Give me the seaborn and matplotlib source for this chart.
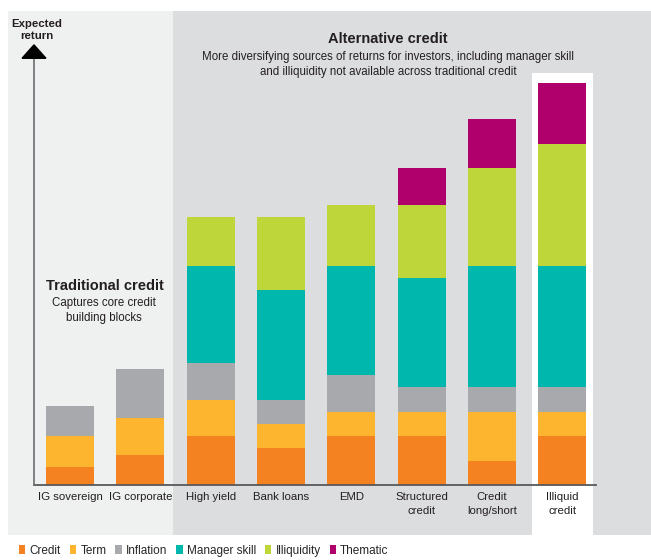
import matplotlib
matplotlib.use("Agg")
import matplotlib.pyplot as plt
from matplotlib.patches import Rectangle, Patch, Polygon
import seaborn as sns
import pandas as pd
import numpy as np

sns.set_theme(style="white")
FONT = ["Liberation Sans", "DejaVu Sans"]
plt.rcParams["font.family"] = FONT

categories = ["IG sovereign", "IG corporate", "High yield", "Bank loans", "EMD",
              "Structured\ncredit", "Credit\nlong/short", "Illiquid\ncredit"]
credit     = [1.5, 2.5, 4, 3, 4, 4, 2, 4]
term       = [2.5, 3.0, 3, 2, 2, 2, 4, 2]
inflation  = [2.5, 4.0, 3, 2, 3, 2, 2, 2]
manager    = [0, 0, 8, 9, 9, 9, 10, 10]
illiquidity= [0, 0, 4, 6, 5, 6, 8, 10]
thematic   = [0, 0, 0, 0, 0, 3, 4, 5]

layers = ["Credit", "Term", "Inflation", "Manager skill", "Illiquidity", "Thematic"]
values = [credit, term, inflation, manager, illiquidity, thematic]
colors = ["#f58220", "#fdb42f", "#a7a9ac", "#00b7ad", "#bed63a", "#b0006b"]

W, H = 651, 560
fig = plt.figure(figsize=(W / 100, H / 100), dpi=100)

def fx(px):
    return px / W

def fy(py):
    return 1 - py / H

# background panels (figure pixel coordinates)
fig.add_artist(Rectangle((fx(8), fy(535)), fx(173) - fx(8), fy(11) - fy(535),
                         transform=fig.transFigure, color="#eff0f0", zorder=-3, lw=0))
fig.add_artist(Rectangle((fx(173), fy(535)), 1 - fx(173), fy(11) - fy(535),
                         transform=fig.transFigure, color="#dcdddf", zorder=-3, lw=0))
fig.add_artist(Rectangle((fx(532), fy(535)), fx(593) - fx(532), fy(73) - fy(535),
                         transform=fig.transFigure, color="white", zorder=-2, lw=0))

ax = fig.add_axes([fx(34), fy(485), fx(596) - fx(34), fy(40) - fy(485)])
ax.patch.set_alpha(0)

df = pd.DataFrame({"category": categories})
cum = np.zeros(len(categories))
cums = []
for v in values:
    cum = cum + np.array(v, dtype=float)
    cums.append(cum.copy())

# draw from the top layer downwards so lower layers overlay
for name, c, col in reversed(list(zip(layers, cums, colors))):
    sns.barplot(x=df["category"], y=c, color=col, width=0.68, errorbar=None,
                ax=ax, saturation=1, linewidth=0, zorder=2)

ax.set_xlim(-0.512, 7.48)
ax.set_ylim(0, 36.5)
for s in ["top", "right", "left"]:
    ax.spines[s].set_visible(False)
ax.spines["bottom"].set_color("#58595b")
ax.spines["bottom"].set_linewidth(1.3)
ax.set_yticks([])
ax.set_xlabel("")
ax.set_ylabel("")
ax.tick_params(axis="x", length=0, pad=5, labelsize=8.2, colors="#231f20")
ax.set_xticks(range(len(categories)))
ax.set_xticklabels(categories, linespacing=1.45, family=FONT)

# y axis arrow
x0 = -0.512
ax.plot([x0, x0], [0, 35.2], color="#6d6e71", lw=1.2, clip_on=False, zorder=3)
ax.add_patch(Polygon([[x0 - 0.17, 35.0], [x0 + 0.17, 35.0], [x0, 36.1]],
                     closed=True, color="black", clip_on=False, zorder=4))

fig.text(fx(37), fy(30), "Expected\nreturn", ha="center", va="center",
         fontsize=8.2, fontweight="bold", linespacing=1.35, color="#231f20")

fig.text(fx(388), fy(39), "Alternative credit", ha="center", va="center",
         fontsize=10.5, fontweight="bold", color="#231f20")
fig.text(fx(388), fy(57), "More diversifying sources of returns for investors, including manager skill",
         ha="center", va="center", fontsize=8.3, color="#231f20")
fig.text(fx(388), fy(72), "and illiquidity not available across traditional credit",
         ha="center", va="center", fontsize=8.3, color="#231f20")

fig.text(fx(105), fy(286), "Traditional credit", ha="center", va="center",
         fontsize=10.5, fontweight="bold", color="#231f20")
fig.text(fx(104), fy(303), "Captures core credit", ha="center", va="center",
         fontsize=8.3, color="#231f20")
fig.text(fx(104), fy(318), "building blocks", ha="center", va="center",
         fontsize=8.3, color="#231f20")

handles = [Patch(facecolor=c, edgecolor="none", label=l) for l, c in zip(layers, colors)]
fig.legend(handles=handles, loc="center left", bbox_to_anchor=(fx(19), fy(551)),
           ncol=6, frameon=False, fontsize=8.5, handlelength=0.55, handleheight=0.8,
           handletextpad=0.35, columnspacing=0.75, borderaxespad=0, borderpad=0)

fig.savefig("out.png", dpi=100)
